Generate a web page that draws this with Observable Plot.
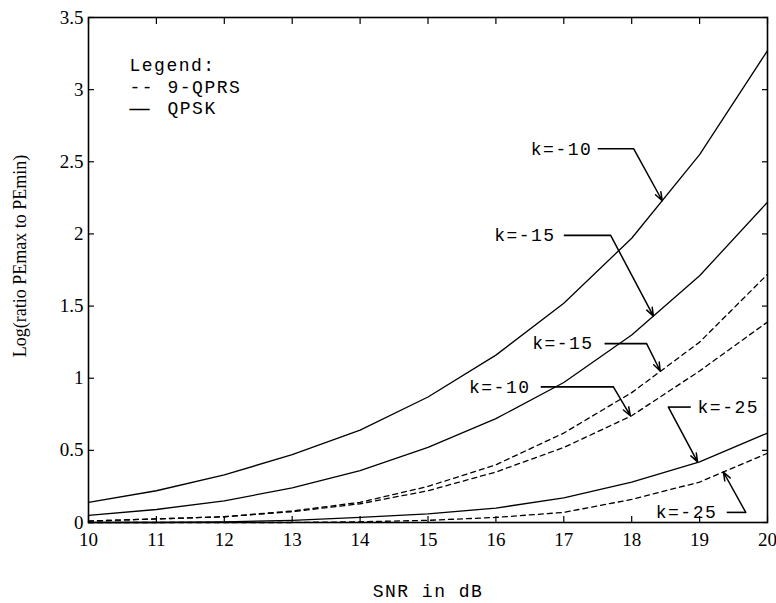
<!DOCTYPE html>
<html><head><meta charset="utf-8">
<script src="https://cdn.jsdelivr.net/npm/d3@7"></script>
<script src="https://cdn.jsdelivr.net/npm/@observablehq/plot@0.6"></script>
<style>body{margin:0;background:#fff}</style>
</head><body><div id="chart"></div>
<script>
// ---- data ----
const snr = [10, 11, 12, 13, 14, 15, 16, 17, 18, 19, 20];
const qpskK10 = [0.14, 0.22, 0.33, 0.47, 0.64, 0.87, 1.16, 1.52, 1.97, 2.55, 3.27];
const qpskK15 = [0.05, 0.09, 0.15, 0.24, 0.36, 0.52, 0.72, 0.97, 1.30, 1.71, 2.22];
const qpskK25 = [0.0, 0.0, 0.005, 0.015, 0.035, 0.06, 0.10, 0.17, 0.28, 0.42, 0.62];
const qprsK15 = [0.01, 0.025, 0.04, 0.08, 0.14, 0.25, 0.40, 0.62, 0.90, 1.25, 1.72];
const qprsK10 = [0.01, 0.025, 0.04, 0.075, 0.13, 0.22, 0.35, 0.52, 0.74, 1.05, 1.39];
const qprsK25 = [0.0, 0.0, 0.0, 0.0, 0.005, 0.015, 0.035, 0.07, 0.16, 0.28, 0.48];

const xTicks = [10, 11, 12, 13, 14, 15, 16, 17, 18, 19, 20];
const yTicks = [0, 0.5, 1, 1.5, 2, 2.5, 3, 3.5];

// annotations (data units): label, label y, text anchor x, leader start x, bend x, arrow target
const annLabels = ["k=-10", "k=-15", "k=-15", "k=-10", "k=-25", "k=-25"];
const annTextX  = [17.42, 16.88, 17.44, 16.51, 18.97, 19.26];
const annY      = [2.59, 1.99, 1.24, 0.94, 0.80, 0.07];
const annStartX = [17.50, 17.00, 17.60, 16.66, 18.87, 19.40];
const annBendX  = [18.03, 17.69, 18.22, 17.73, 18.54, 19.68];
const annTargX  = [18.45, 18.32, 18.42, 17.98, 18.97, 19.35];
const annTargY  = [2.23, 1.43, 1.05, 0.74, 0.42, 0.35];
const annAnchor = ["end", "end", "end", "end", "start", "end"];

const series = [
  {name: "QPSK k=-10", type: "QPSK", values: qpskK10},
  {name: "QPSK k=-15", type: "QPSK", values: qpskK15},
  {name: "QPSK k=-25", type: "QPSK", values: qpskK25},
  {name: "9-QPRS k=-15", type: "QPRS", values: qprsK15},
  {name: "9-QPRS k=-10", type: "QPRS", values: qprsK10},
  {name: "9-QPRS k=-25", type: "QPRS", values: qprsK25}
];
const rows = series.flatMap(s => snr.map((x, i) => ({x, y: s.values[i], name: s.name, type: s.type})));
const ann = annLabels.map((label, i) => ({
  label, tx: annTextX[i], y: annY[i], sx: annStartX[i], bx: annBendX[i],
  ax: annTargX[i], ay: annTargY[i], anchor: annAnchor[i]
}));

const mono = "Liberation Mono, DejaVu Sans Mono, monospace";
const serif = "Liberation Serif, DejaVu Serif, serif";

const chart = Plot.plot({
  width: 776, height: 603,
  marginLeft: 88, marginRight: 9, marginTop: 17, marginBottom: 81,
  x: {domain: [10, 20]},
  y: {domain: [0, 3.5]},
  style: {fontFamily: serif, fontSize: "19px", color: "black", background: "white"},
  marks: [
    // tick labels
    Plot.axisX({ticks: xTicks, tickSize: 0, tickPadding: 10, tickFormat: d => String(d), label: null}),
    Plot.axisY({ticks: yTicks, tickSize: 0, tickPadding: 5, tickFormat: d => String(d), label: null}),
    // inward ticks on all four sides
    Plot.axisX({anchor: "bottom", ticks: xTicks, tickSize: 6, dy: -6, tickFormat: () => "", label: null, strokeWidth: 1.2}),
    Plot.axisX({anchor: "top", ticks: xTicks, tickSize: 6, dy: 6, tickFormat: () => "", label: null, strokeWidth: 1.2}),
    Plot.axisY({anchor: "left", ticks: yTicks, tickSize: 6, dx: 6, tickFormat: () => "", label: null, strokeWidth: 1.2}),
    Plot.axisY({anchor: "right", ticks: yTicks, tickSize: 6, dx: -6, tickFormat: () => "", label: null, strokeWidth: 1.2}),
    Plot.frame({stroke: "black", strokeWidth: 1.6}),
    // curves
    Plot.line(rows.filter(d => d.type === "QPSK"), {x: "x", y: "y", z: "name", stroke: "black", strokeWidth: 1.3}),
    Plot.line(rows.filter(d => d.type === "QPRS"), {x: "x", y: "y", z: "name", stroke: "black", strokeWidth: 1.3, strokeDasharray: "5,4"}),
    // annotations
    Plot.link(ann, {x1: "sx", y1: "y", x2: "bx", y2: "y", stroke: "black", strokeWidth: 1.6}),
    Plot.arrow(ann, {x1: "bx", y1: "y", x2: "ax", y2: "ay", stroke: "black", strokeWidth: 1.5, headLength: 9, headAngle: 40}),
    Plot.text(ann.filter(d => d.anchor === "end"), {x: "tx", y: "y", text: "label", textAnchor: "end", fontFamily: mono, fontSize: 18}),
    Plot.text(ann.filter(d => d.anchor === "start"), {x: "tx", y: "y", text: "label", textAnchor: "start", fontFamily: mono, fontSize: 18}),
    // legend
    Plot.text(["Legend:"], {text: d => d, frameAnchor: "top-left", textAnchor: "start", lineAnchor: "middle", dx: 41, dy: 48, fontFamily: mono, fontSize: 18}),
    Plot.text(["--"], {text: d => d, frameAnchor: "top-left", textAnchor: "start", lineAnchor: "middle", dx: 41, dy: 70, fontFamily: mono, fontSize: 18}),
    Plot.text(["9-QPRS"], {text: d => d, frameAnchor: "top-left", textAnchor: "start", lineAnchor: "middle", dx: 79, dy: 70, fontFamily: mono, fontSize: 18}),
    Plot.text(["\u2014"], {text: d => d, frameAnchor: "top-left", textAnchor: "start", lineAnchor: "middle", dx: 41, dy: 91, fontFamily: serif, fontSize: 20, fontWeight: "bold"}),
    Plot.text(["QPSK"], {text: d => d, frameAnchor: "top-left", textAnchor: "start", lineAnchor: "middle", dx: 79, dy: 91, fontFamily: mono, fontSize: 18}),
    // axis titles
    Plot.text(["Log(ratio PEmax to PEmin)"], {text: d => d, frameAnchor: "left", textAnchor: "middle", lineAnchor: "middle", rotate: -90, dx: -68, dy: -14, fontFamily: serif, fontSize: 18}),
    Plot.text(["SNR in dB"], {text: d => d, frameAnchor: "bottom", lineAnchor: "middle", dy: 69, fontFamily: mono, fontSize: 18})
  ]
});
// typewriter-like letter spacing for the monospaced labels
d3.select(chart).selectAll("g[font-family^='Liberation Mono'] text").attr("letter-spacing", "1.5px");
document.getElementById("chart").appendChild(chart);
</script>
</body></html>
